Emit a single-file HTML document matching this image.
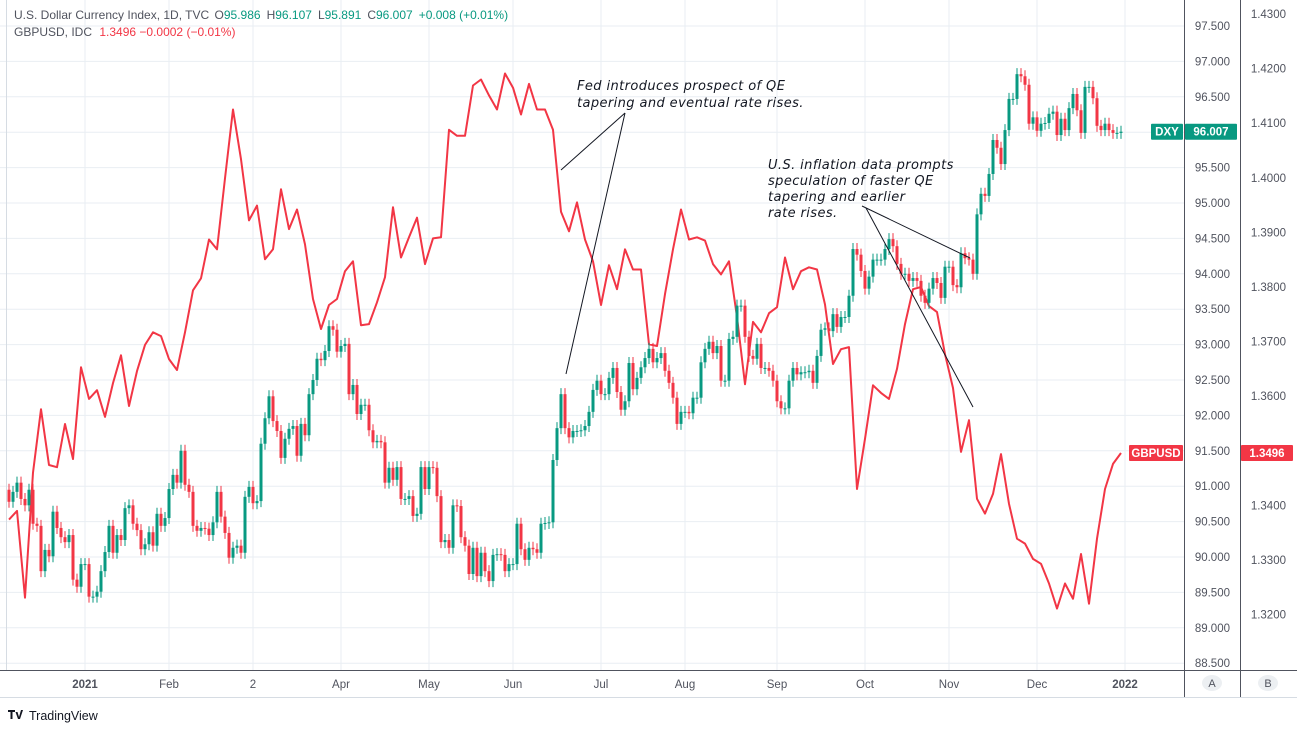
<!DOCTYPE html>
<html><head><meta charset="utf-8"><style>
html,body{margin:0;padding:0;background:#fff;}
svg{display:block;font-family:"Liberation Sans",sans-serif;}
.ax{font-size:11.5px;fill:#50535e;}
.ann{font-family:"DejaVu Sans",sans-serif;font-style:italic;font-size:13px;fill:#131722;letter-spacing:0.4px;}
</style></head><body>
<svg id="chart" width="1297" height="729" viewBox="0 0 1297 729" xmlns="http://www.w3.org/2000/svg">
<g id="grid"></g>
<g id="gbp"></g>
<g id="dxy"></g>
<g>
<text class="ann" x="577" y="90">Fed introduces prospect of QE</text>
<text class="ann" x="577" y="107">tapering and eventual rate rises.</text>
<line x1="625" y1="113" x2="561" y2="170" stroke="#131722" stroke-width="1"/>
<line x1="625" y1="113" x2="566" y2="374" stroke="#131722" stroke-width="1"/>
<text class="ann" x="768" y="169">U.S. inflation data prompts</text>
<text class="ann" x="768" y="185">speculation of faster QE</text>
<text class="ann" x="768" y="201">tapering and earlier</text>
<text class="ann" x="768" y="217">rate rises.</text>
<line x1="862" y1="206" x2="970" y2="258" stroke="#131722" stroke-width="1"/>
<line x1="866" y1="208" x2="973" y2="407" stroke="#131722" stroke-width="1"/>
</g>
<g font-size="12">
<text x="14" y="19" fill="#50535e">U.S. Dollar Currency Index, 1D, TVC <tspan fill="#50535e" dx="2">O</tspan><tspan fill="#089981">95.986</tspan><tspan fill="#50535e" dx="6">H</tspan><tspan fill="#089981">96.107</tspan><tspan fill="#50535e" dx="6">L</tspan><tspan fill="#089981">95.891</tspan><tspan fill="#50535e" dx="6">C</tspan><tspan fill="#089981">96.007</tspan><tspan fill="#089981" dx="6">+0.008 (+0.01%)</tspan></text>
<text x="14" y="36" fill="#50535e">GBPUSD, IDC <tspan fill="#f23645" dx="4">1.3496  −0.0002 (−0.01%)</tspan></text>
</g>
<g id="axes"></g>
<g>
<g>
<path d="M8 710 h7 v2 h-2.5 v7 h-2 v-7 h-2.5z M15.5 712 l2 0 l1.5 5 l2 -7 l2 0 l-3 9 l-2 0z" fill="#131722"/>
<text x="29" y="720" font-size="12.5" fill="#131722">TradingView</text>
</g>
</g>
</svg>
<script>
// ---- data ----
const dxyFirstOpen = 90.95;
const dxyClose = [
90.78,90.92,91.05,90.82,90.73,90.95,90.47,90.44,89.80,90.10,90.01,90.64,90.41,90.28,90.21,90.31,89.68,89.58,89.90,89.90,
89.44,89.44,89.51,89.80,90.07,90.44,90.06,90.31,90.24,90.69,90.73,90.47,90.38,90.11,90.18,90.35,90.16,90.61,90.44,90.55,
90.96,91.16,91.05,91.50,91.02,90.92,90.44,90.37,90.41,90.40,90.31,90.49,90.92,90.57,90.34,89.99,90.13,90.16,90.06,90.85,
90.99,90.76,90.79,91.60,91.96,92.27,91.92,91.78,91.40,91.67,91.81,91.85,91.43,
91.88,91.72,92.30,92.50,92.80,92.78,92.91,93.26,93.21,92.90,92.98,93.01,92.30,92.43,92.02,92.15,92.15,91.79,91.62,91.64,
91.62,91.05,91.26,91.09,91.27,90.82,90.82,90.86,90.58,90.61,91.27,90.96,91.27,91.26,90.86,90.21,90.24,90.13,90.73,90.72,
90.28,90.16,89.76,90.13,89.73,90.06,89.80,89.66,90.03,90.04,90.03,89.80,89.90,89.90,90.47,90.11,89.96,90.13,90.11,90.06,
90.47,90.48,90.49,91.37,91.82,92.30,91.82,91.69,91.78,91.78,91.79,91.85,92.05,92.36,
92.49,92.30,92.30,92.53,92.67,92.33,92.08,92.20,92.74,92.37,92.53,92.68,92.81,92.94,92.75,92.81,92.88,92.63,92.46,92.25,
91.88,92.05,92.05,92.03,92.25,92.25,92.75,92.94,93.04,92.88,92.98,92.49,92.49,93.08,93.11,93.55,93.55,93.11,92.84,92.80,
93.01,92.67,92.67,92.63,92.49,92.20,92.10,92.10,92.49,92.67,92.58,92.61,92.61,92.63,92.46,92.84,93.21,93.23,93.19,93.43,
93.25,93.39,93.39,93.69,94.35,94.27,94.04,93.79,93.96,94.20,94.20,94.20,94.35,94.49,94.39,94.14,
94.00,94.00,93.90,93.94,93.90,93.69,93.59,93.79,93.94,93.87,93.66,94.10,94.10,93.84,93.81,94.29,94.22,94.20,94.00,94.84,
95.13,95.10,95.41,95.89,95.78,95.55,96.03,96.47,96.47,96.82,96.79,96.67,96.12,96.21,96.02,96.12,96.13,96.26,96.29,95.96,
96.19,96.03,96.34,96.54,96.31,95.99,96.64,96.64,96.48,96.09,96.03,96.12,96.03,95.99,95.99,96.007];
const gbpClose = [
1.3374,1.3390,1.3231,1.3460,1.3576,1.3474,1.3470,1.3549,1.3485,1.3653,
1.3595,1.3611,1.3562,1.3624,1.3675,1.3582,1.3646,1.3694,1.3717,1.3710,
1.3668,1.3648,1.3717,1.3794,1.3816,1.3887,1.3869,1.3999,1.4125,1.4034,
1.3922,1.3949,1.3851,1.3869,1.3979,1.3906,1.3942,1.3878,1.3778,1.3723,
1.3767,1.3778,1.3829,1.3847,1.3730,1.3732,1.3772,1.3818,1.3946,1.3854,
1.3891,1.3927,1.3842,1.3889,1.3891,1.4088,1.4077,1.4077,1.4169,1.4180,
1.4151,1.4125,1.4191,1.4165,1.4116,1.4172,1.4125,1.4125,1.4088,1.3938,
1.3902,1.3955,1.3887,1.3847,1.3767,1.3840,1.3796,1.3869,1.3832,1.3832,
1.3695,1.3692,1.3787,1.3869,1.3942,1.3887,1.3891,1.3885,1.3842,1.3823,
1.3847,1.3745,1.3622,1.3736,1.3717,1.3752,1.3763,1.3854,1.3796,1.3829,
1.3836,1.3832,1.3768,1.3659,1.3686,1.3690,1.3430,1.3522,1.3620,1.3606,
1.3595,1.3650,1.3732,1.3796,1.3800,1.3765,1.3754,1.3677,1.3615,1.3498,
1.3556,1.3412,1.3385,1.3421,1.3494,1.3403,1.3339,1.3330,1.3302,1.3293,
1.3257,1.3211,1.3257,1.3229,1.3311,1.3220,1.3339,1.3430,1.3476,1.3496];
const dxyTicks = ["97.500","97.000","96.500","96.000","95.500","95.000","94.500","94.000","93.500","93.000","92.500","92.000","91.500","91.000","90.500","90.000","89.500","89.000","88.500"];
const gbpTicks = ["1.4300","1.4200","1.4100","1.4000","1.3900","1.3800","1.3700","1.3600","1.3500","1.3400","1.3300","1.3200"];
const monthLabels = ["2021","Feb","2","Apr","May","Jun","Jul","Aug","Sep","Oct","Nov","Dec","2022"];
const monthBars = [19,40,61,83,105,126,148,169,192,214,235,257,279];

// ---- scales ----
const NS='http://www.w3.org/2000/svg';
const N = dxyClose.length;
const X0=9, X1=1121;
const step=(X1-X0)/(N-1);
function xBar(i){return X0+i*step;}
function yD(v){return 26+(97.5-v)*70.8;}
function yG(v){return 14+(1.43-v)*5460;}
function mk(tag,attrs,parent){const e=document.createElementNS(NS,tag);for(const k in attrs)e.setAttribute(k,attrs[k]);parent.appendChild(e);return e;}

const grid=document.getElementById('grid');
const axes=document.getElementById('axes');
mk('rect',{x:0,y:0,width:1297,height:729,fill:'#ffffff'},grid);
dxyTicks.forEach(t=>{const y=yD(parseFloat(t));
 const l=mk('line',{x1:0,x2:1184,y1:y,y2:y,stroke:'#e9eef3','stroke-width':1},grid);
 
 
 const tx=mk('text',{x:1230,y:y+4,'text-anchor':'end',class:'ax'},axes);
 tx.textContent=t;
 
 
});
gbpTicks.forEach(t=>{const y=yG(parseFloat(t));
 const tx=mk('text',{x:1286,y:y+4,'text-anchor':'end',class:'ax'},axes);
 tx.textContent=t;
 
 
});
monthLabels.forEach((m,k)=>{const x=xBar(monthBars[k]);
 const l=mk('line',{x1:x,x2:x,y1:0,y2:670,stroke:'#e9eef3','stroke-width':1},grid);
 
 
 const bold=(m==='2021'||m==='2022');
 const tx=mk('text',{x:x,y:688,'text-anchor':'middle',class:'ax','font-weight':bold?'bold':'normal'},axes);
 tx.textContent=m;
 
 
});
mk('line',{x1:6.5,x2:6.5,y1:0,y2:670,stroke:'#d6dce3','stroke-width':1},grid);
mk('line',{x1:0,x2:1297,y1:670.5,y2:670.5,stroke:'#50535e','stroke-width':1},axes);
mk('line',{x1:0,x2:1297,y1:697.5,y2:697.5,stroke:'#d6dce3','stroke-width':1},axes);
mk('line',{x1:1184.5,x2:1184.5,y1:0,y2:697,stroke:'#50535e','stroke-width':1},axes);
mk('line',{x1:1240.5,x2:1240.5,y1:0,y2:697,stroke:'#50535e','stroke-width':1},axes);
[['A',1212],['B',1268]].forEach(([t,x])=>{
 const g=mk('g',{},axes);
 
 
 mk('ellipse',{cx:x,cy:683,rx:10,ry:8,fill:'#eceff2'},g);
 const tx=mk('text',{x:x,y:687,'text-anchor':'middle','font-size':'11',fill:'#50535e'},g);
 tx.textContent=t;
});

const gbpG=document.getElementById('gbp');
let d='';
gbpClose.forEach((v,j)=>{d+=(j?'L':'M')+xBar(Math.min(2*j,N-1)).toFixed(1)+' '+yG(v).toFixed(1);});
const path=mk('path',{d:d,fill:'none',stroke:'#f23645','stroke-width':2,'stroke-linejoin':'round'},gbpG);



const dxyG=document.getElementById('dxy');
let prev=dxyFirstOpen;
dxyClose.forEach((c,i)=>{
 const o=prev; prev=c;
 const up=c>=o; const col=up?'#089981':'#f23645';
 const x=xBar(i);
 const yt=yD(Math.max(o,c)), yb=yD(Math.min(o,c));
 const g=mk('g',{},dxyG);
 
 
 mk('line',{x1:x,x2:x,y1:yt-6,y2:yb+6,stroke:col,'stroke-width':1},g);
 mk('rect',{x:x-1.5,y:yt,width:3,height:Math.max(1,yb-yt),fill:col},g);
});

function tag(x,y,w,h,fill,text,name){
 const g=mk('g',{},axes);
 
 
 mk('rect',{x:x,y:y,width:w,height:h,fill:fill,rx:1},g);
 const t=mk('text',{x:x+w/2,y:y+h/2+4,'text-anchor':'middle','font-size':'11.5','font-weight':'bold',fill:'#fff'},g);
 t.textContent=text;
}
const lastD=dxyClose[N-1], lastG=gbpClose[gbpClose.length-1];
tag(1151,yD(lastD)-8,32,16,'#089981','DXY','dxy-series-tag');
tag(1185,yD(lastD)-8,52,16,'#089981',lastD.toFixed(3),'dxy-last-price');
tag(1129,yG(lastG)-8,54,16,'#f23645','GBPUSD','gbpusd-series-tag');
tag(1241,yG(lastG)-8,52,16,'#f23645',lastG.toFixed(4),'gbpusd-last-price');
</script>
</body></html>
